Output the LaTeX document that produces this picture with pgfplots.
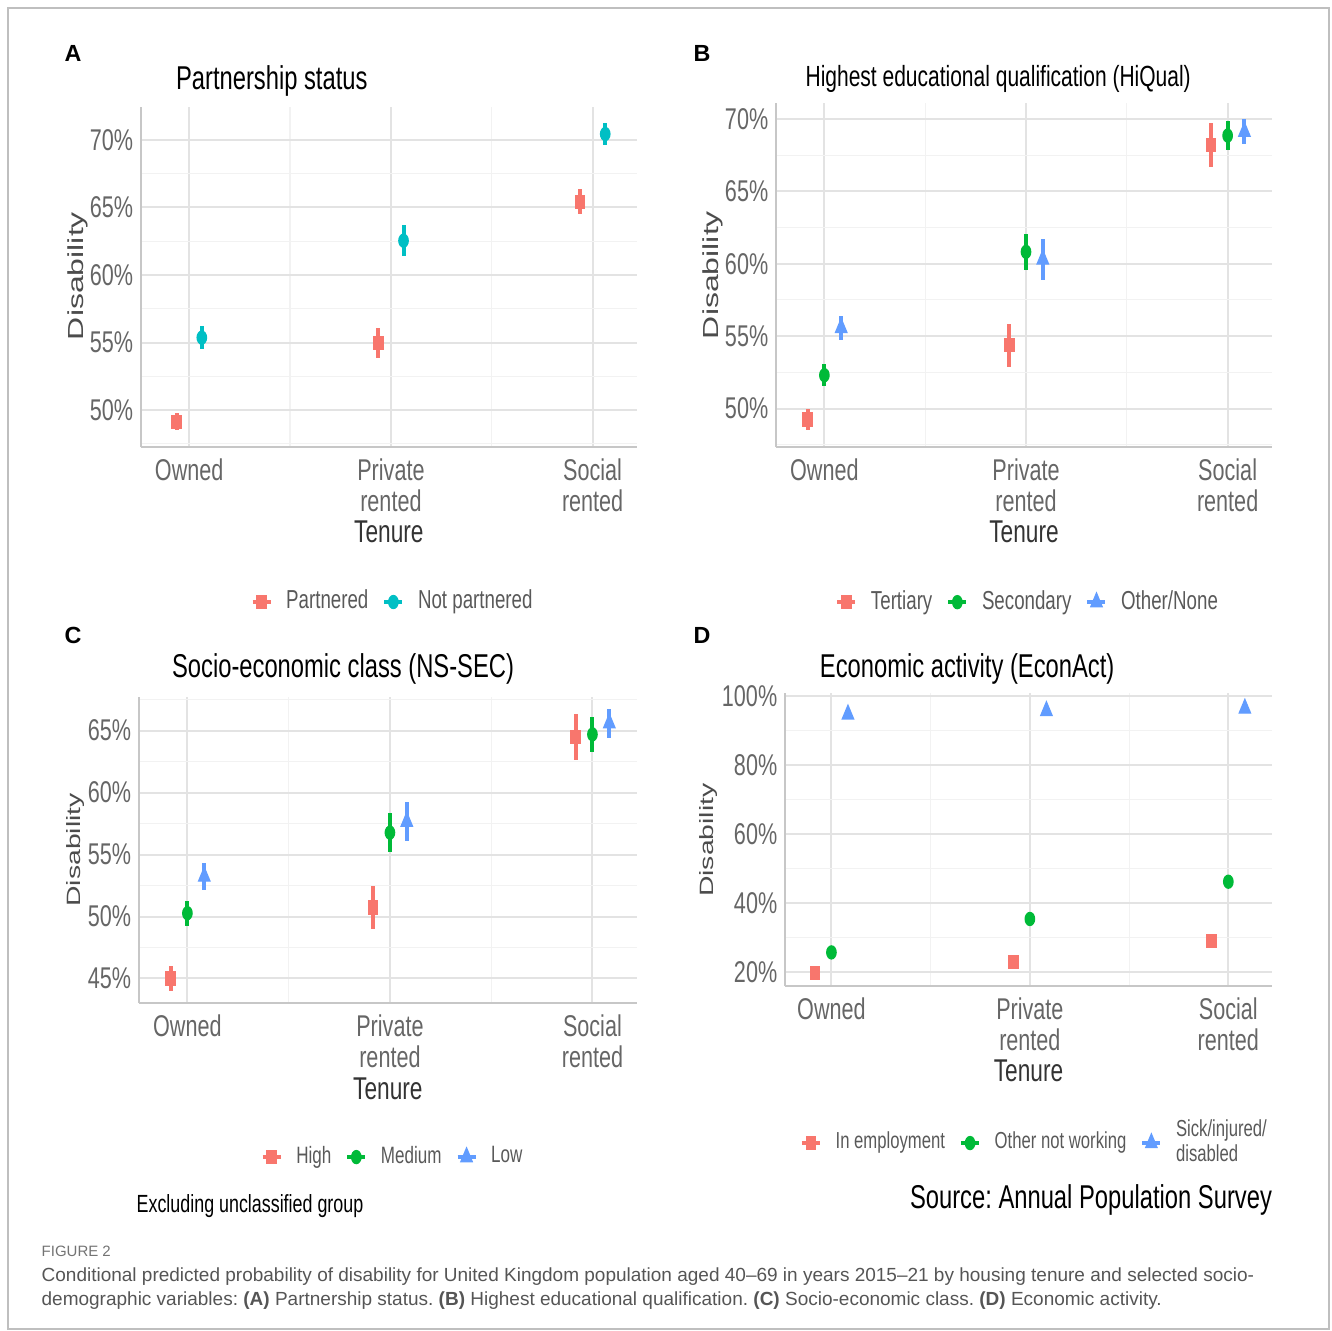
\documentclass[border=0pt]{standalone}
\usepackage{pgfplots}
\pgfplotsset{compat=1.18}
\usepackage{fontspec}
\setmainfont{Liberation Sans}
\newfontfamily\cond{Liberation Sans}[FakeStretch=0.72]
\newfontfamily\capf{Liberation Sans}
\definecolor{cr}{HTML}{F8766D}
\definecolor{ct}{HTML}{00BFC4}
\definecolor{cg}{HTML}{00BA38}
\definecolor{cb}{HTML}{619CFF}
\definecolor{capgray}{HTML}{555555}
\frenchspacing
\pgfplotsset{
  panel/.style={
    scale only axis, anchor=south west,
    axis lines*=left, axis line style={-, draw=black!22, line width=0.6pt},
    xmin=0.76, xmax=3.22,
    xtick={1,2,3}, xticklabels={Owned,{Private\\rented},{Social\\rented}},
    minor xtick={1.5,2.5},
    grid=both,
    major grid style={draw=black!11, line width=0.6pt},
    minor grid style={draw=black!5, line width=0.35pt},
    major tick length=0pt, minor tick length=0pt,
    tick label style={font=\cond\fontsize{9}{9.3}\selectfont, text=black!60},
    xticklabel style={align=center, anchor=north},
    yticklabel style={xshift=1.2pt},
    /pgf/number format/assume math mode=true,
    yticklabel={\pgfmathprintnumber{\tick}\%},
    xlabel={Tenure},
    xlabel style={anchor=center, font=\cond\fontsize{9.45}{10}\selectfont, text=black!80},
    ylabel={\scalebox{1}[0.68]{Disability}},
    ylabel style={anchor=center, font=\fontsize{9.6}{10}\selectfont, text=black!70},
    title style={anchor=center, yshift=-6.9pt, font=\cond\fontsize{9.9}{10}\selectfont, text=black},
    legend columns=-1,
    legend style={draw=none, fill=none, anchor=center,
      font=\cond\fontsize{7.8}{8}\selectfont, text=black!65,
      /tikz/every odd column/.append style={column sep=2.1pt},
      /tikz/every even column/.append style={column sep=2.2pt}},
    legend image code/.code={
      \draw[#1, line width=1.2pt] (0pt,0pt) -- (5.4pt,0pt);
      \draw[#1] plot coordinates {(2.7pt,0pt)};
    },
  },
  ser/.style={only marks, color=#1, mark options={xscale=0.72, fill=#1, draw=#1},
    error bars/y dir=both, error bars/y explicit, error bars/error mark=none,
    error bars/error bar style={line width=1.2pt, color=#1}},
  sq/.style={mark=square*, mark size=1.95pt},
  ci/.style={mark=*, mark size=1.95pt},
  tr/.style={mark=triangle*, mark size=2.7pt},
}
\begin{document}
\begin{tikzpicture}
\path[use as bounding box] (0pt,0pt) rectangle (399.6pt,-399.3pt);
\draw[black!25, line width=0.6pt] (2.25pt,-2.25pt) rectangle (398.7pt,-398.7pt);

% Panel A
\node[font=\bfseries\fontsize{7}{7}\selectfont] at (21.9pt,-15.9pt) {A};
\begin{axis}[panel, at={(42.24pt,-134.1pt)}, width=148.86pt, height=102pt,
  ymin=47.26, ymax=72.44, ytick={50,55,60,65,70}, minor ytick={47.5,52.5,57.5,62.5,67.5},
  title={Partnership status}, title style={at={(axis description cs:0.264,1.085)}},
  xlabel style={at={(axis description cs:0.5,-0.25)}},
  ylabel style={at={(axis description cs:-0.127,0.503)}},
  legend style={at={(axis description cs:0.512,-0.456)}}]
\addplot[ser=cr, sq] coordinates {(0.9375,49.13) +- (0,0.63) (1.9375,54.94) +- (0,1.1) (2.9375,65.43) +- (0,0.92)};
\addplot[ser=ct, ci] coordinates {(1.0625,55.36) +- (0,0.84) (2.0625,62.54) +- (0,1.15) (3.0625,70.44) +- (0,0.83)};
\legend{Partnered, Not partnered}
\end{axis}

% Panel B
\node[font=\bfseries\fontsize{7}{7}\selectfont] at (210.6pt,-15.9pt) {B};
\begin{axis}[panel, at={(232.8pt,-134.1pt)}, width=148.8pt, height=103.2pt,
  ymin=47.34, ymax=71.1, ytick={50,55,60,65,70}, minor ytick={47.5,52.5,57.5,62.5,67.5},
  title={Highest educational qualification (HiQual)},
  title style={at={(axis description cs:0.448,1.078)}, font=\cond\fontsize{8.75}{9}\selectfont},
  xlabel style={at={(axis description cs:0.5,-0.247)}},
  ylabel style={at={(axis description cs:-0.127,0.5)}},
  legend style={at={(axis description cs:0.512,-0.451)}}]
\addplot[ser=cr, sq] coordinates {(0.9167,49.25) +- (0,0.75) (1.9167,54.37) +- (0,1.47) (2.9167,68.2) +- (0,1.5)};
\addplot[ser=cg, ci] coordinates {(1,52.3) +- (0,0.77) (2,60.82) +- (0,1.25) (3,68.85) +- (0,0.98)};
\addplot[ser=cb, tr] coordinates {(1.0833,55.57) +- (0,0.83) (2.0833,60.3) +- (0,1.4) (3.0833,69.12) +- (0,0.87)};
\legend{Tertiary, Secondary, Other/None}
\end{axis}

% Panel C
\node[font=\bfseries\fontsize{7}{7}\selectfont] at (21.9pt,-190.5pt) {C};
\begin{axis}[panel, at={(41.64pt,-300.9pt)}, width=149.46pt, height=91.89pt,
  ymin=43.02, ymax=67.74, ytick={45,50,55,60,65}, minor ytick={47.5,52.5,57.5,62.5,67.5},
  title={Socio-economic class (NS-SEC)}, title style={at={(axis description cs:0.41,1.10)}},
  xlabel style={at={(axis description cs:0.5,-0.281)}},
  ylabel style={at={(axis description cs:-0.128,0.5)}, font=\fontsize{8.5}{9}\selectfont},
  legend style={at={(axis description cs:0.514,-0.503)}, font=\cond\fontsize{7.1}{7.5}\selectfont}]
\addplot[ser=cr, sq] coordinates {(0.9167,45.0) +- (0,1.0) (1.9167,50.73) +- (0,1.7) (2.9167,64.5) +- (0,1.87)};
\addplot[ser=cg, ci] coordinates {(1,50.27) +- (0,1.02) (2,56.77) +- (0,1.58) (3,64.7) +- (0,1.41)};
\addplot[ser=cb, tr] coordinates {(1.0833,53.23) +- (0,1.07) (2.0833,57.66) +- (0,1.55) (3.0833,65.6) +- (0,1.17)};
\legend{High, Medium, Low}
\end{axis}
\node[font=\cond\fontsize{7.45}{8}\selectfont] at (75pt,-361.8pt) {Excluding unclassified group};

% Panel D
\node[font=\bfseries\fontsize{7}{7}\selectfont] at (210.6pt,-190.5pt) {D};
\begin{axis}[panel, at={(235.5pt,-295.8pt)}, width=146.1pt, height=87.9pt,
  xmin=0.766,
  ymin=15.86, ymax=100.8, ytick={20,40,60,80,100}, minor ytick={30,50,70,90},
  title={Economic activity (EconAct)}, title style={at={(axis description cs:0.374,1.092)}},
  xlabel style={at={(axis description cs:0.5,-0.29)}},
  ylabel style={at={(axis description cs:-0.158,0.498)}, font=\fontsize{8.5}{9}\selectfont},
  legend style={at={(axis description cs:0.517,-0.536)}, font=\cond\fontsize{6.95}{7.5}\selectfont, cells={align=left}}]
\addplot[ser=cr, sq] coordinates {(0.9167,19.7) (1.9167,22.9) (2.9167,28.9)};
\addplot[ser=cg, ci] coordinates {(1,25.6) (2,35.3) (3,46.1)};
\addplot[ser=cb, tr] coordinates {(1.0833,94.6) (2.0833,95.6) (3.0833,96.3)};
\legend{In employment, Other not working, {Sick/injured/\\disabled}}
\end{axis}
\node[font=\cond\fontsize{9.9}{10}\selectfont] at (327.3pt,-360pt) {Source: Annual Population Survey};

% Caption
\node[anchor=base west, inner sep=0pt, font=\capf\fontsize{4.5}{5}\selectfont, text=black!55] at (12.3pt,-376.8pt) {FIGURE 2};
\node[anchor=base west, inner sep=0pt, font=\capf\fontsize{5.7}{6}\selectfont, text=capgray] at (12.3pt,-384.3pt) {Conditional predicted probability of disability for United Kingdom population aged 40–69 in years 2015–21 by housing tenure and selected socio-};
\node[anchor=base west, inner sep=0pt, font=\capf\fontsize{5.7}{6}\selectfont, text=capgray] at (12.3pt,-391.5pt) {demographic variables: \textbf{(A)} Partnership status. \textbf{(B)} Highest educational qualification. \textbf{(C)} Socio-economic class. \textbf{(D)} Economic activity.};
\end{tikzpicture}
\end{document}
